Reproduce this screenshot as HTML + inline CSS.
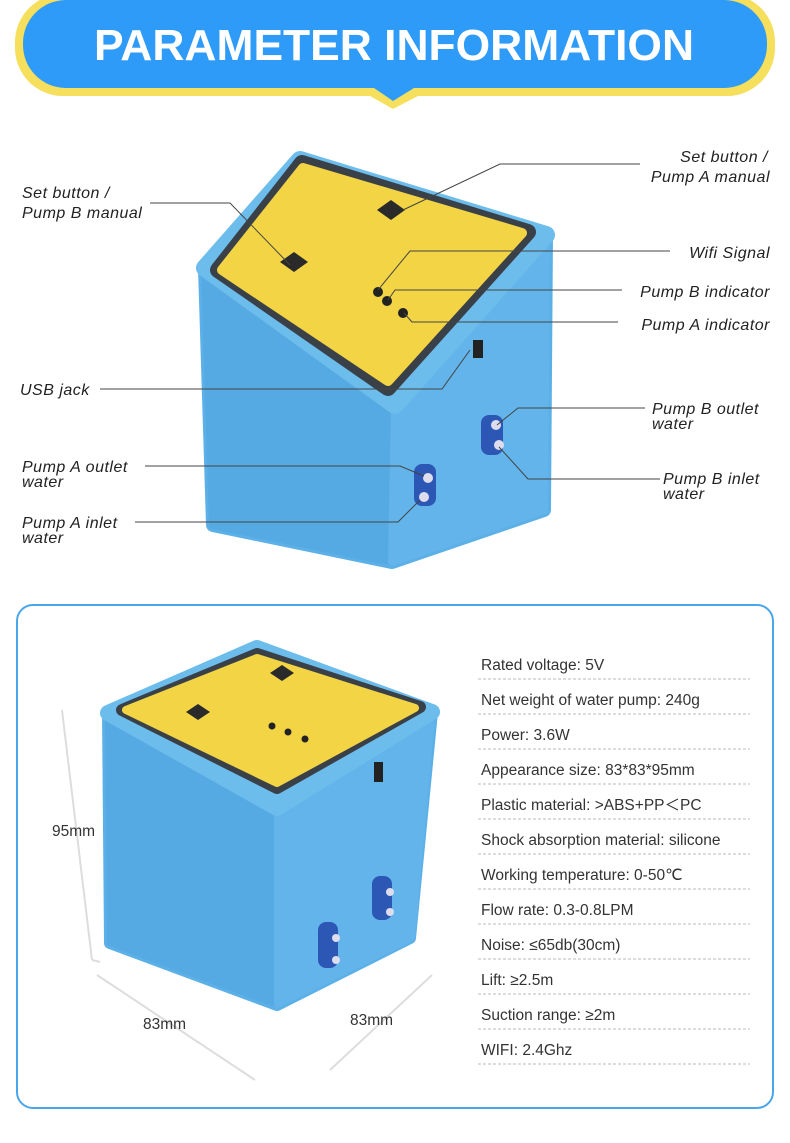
<!DOCTYPE html>
<html><head><meta charset="utf-8"><style>
body{margin:0;background:#fff;width:790px;height:1143px;overflow:hidden}
svg{display:block}
.l{font-family:"Liberation Sans",sans-serif;font-style:italic;font-size:16px;fill:#222;letter-spacing:0.5px}
.s{font-family:"Liberation Sans",sans-serif;font-size:15.5px;fill:#333}
.ln{stroke:#444;stroke-width:1;fill:none}
.d{stroke:#bbb;stroke-width:1;stroke-dasharray:3 2}
.dim{stroke:#ddd;stroke-width:2;fill:none}
</style></head><body>
<svg width="790" height="1143" viewBox="0 0 790 1143">
<!-- banner -->
<path d="M63,-6 H727 A48,48 0 0 1 775,42 V48 A48,48 0 0 1 727,96 H418 L393,109 L370,96 H63 A48,48 0 0 1 15,48 V42 A48,48 0 0 1 63,-6Z" fill="#f5df5c"/>
<path d="M66,0 H724 A43,43 0 0 1 767,43 V45 A43,43 0 0 1 724,88 H414 L393,101 L374,88 H66 A43,43 0 0 1 23,45 V43 A43,43 0 0 1 66,0Z" fill="#2f9bf9"/>
<text x="94" y="60" font-family="Liberation Sans,sans-serif" font-weight="bold" font-size="44" fill="#fff" textLength="600" lengthAdjust="spacingAndGlyphs">PARAMETER INFORMATION</text>

<!-- top product -->
<g stroke-linejoin="round">
<path d="M205,268 L300,160 L546,235 L544,510 L392,562 L213,525 Z" fill="#5cb0e8" stroke="#5cb0e8" stroke-width="14"/>
<path d="M205,268 L395,405 L392,562 L213,525 Z" fill="#56aae3" stroke="#56aae3" stroke-width="8"/>
<path d="M395,405 L546,240 L544,510 L392,562 Z" fill="#62b4ea" stroke="#62b4ea" stroke-width="8"/>
<path d="M205,268 L300,160 L546,235 L395,405 Z" fill="#6cbcec" stroke="#6cbcec" stroke-width="18"/>
<path d="M218,270 L302,163 L528,232 L388,388 Z" fill="#3a4048" stroke="#3a4048" stroke-width="16"/>
<path d="M222,270 L303,168 L522,233 L388,381 Z" fill="#f3d444" stroke="#f3d444" stroke-width="10"/>
</g>
<path d="M280,262 l14,-10 l14,10 l-14,10z" fill="#2a2a2a"/>
<path d="M377,210 l14,-10 l14,10 l-14,10z" fill="#2a2a2a"/>
<circle cx="378" cy="292" r="5" fill="#222"/><circle cx="387" cy="301" r="5" fill="#222"/><circle cx="403" cy="313" r="5" fill="#222"/>
<rect x="473" y="340" width="10" height="18" fill="#222"/>
<rect x="481" y="415" width="22" height="40" rx="8" fill="#2d57b5"/>
<rect x="414" y="464" width="22" height="42" rx="8" fill="#2d57b5"/>
<circle cx="496" cy="425" r="5" fill="#dde"/><circle cx="499" cy="445" r="5" fill="#dde"/>
<circle cx="428" cy="478" r="5" fill="#dde"/><circle cx="424" cy="497" r="5" fill="#dde"/>

<!-- top labels -->
<text class="l" x="22" y="198">Set button /</text>
<text class="l" x="22" y="218">Pump B manual</text>
<path class="ln" d="M150,203 H230 L290,265"/>
<text class="l" x="768" y="162" text-anchor="end">Set button /</text>
<text class="l" x="770" y="182" text-anchor="end">Pump A manual</text>
<path class="ln" d="M640,164 H500 L403,210"/>
<text class="l" x="770" y="258" text-anchor="end">Wifi Signal</text>
<path class="ln" d="M670,251 H410 L378,290"/>
<text class="l" x="770" y="297" text-anchor="end">Pump B indicator</text>
<path class="ln" d="M622,290 H395 L388,300"/>
<text class="l" x="770" y="330" text-anchor="end">Pump A indicator</text>
<path class="ln" d="M618,322 H412 L404,313"/>
<text class="l" x="20" y="395">USB jack</text>
<path class="ln" d="M100,389 H442 L470,350"/>
<text class="l" x="652" y="414">Pump B outlet</text>
<text class="l" x="652" y="429">water</text>
<path class="ln" d="M645,408 H518 L497,425"/>
<text class="l" x="663" y="484">Pump B inlet</text>
<text class="l" x="663" y="499">water</text>
<path class="ln" d="M660,479 H528 L499,447"/>
<text class="l" x="22" y="472">Pump A outlet</text>
<text class="l" x="22" y="487">water</text>
<path class="ln" d="M145,466 H400 L424,476"/>
<text class="l" x="22" y="528">Pump A inlet</text>
<text class="l" x="22" y="543">water</text>
<path class="ln" d="M135,522 H398 L420,500"/>

<!-- bottom panel -->
<rect x="17" y="605" width="756" height="503" rx="16" fill="#fff" stroke="#4aa6e8" stroke-width="2"/>
<!-- bottom product -->
<g stroke-linejoin="round">
<path d="M108,713 L257,648 L432,712 L410,938 L277,1005 L110,943 Z" fill="#5cb0e8" stroke="#5cb0e8" stroke-width="12"/>
<path d="M108,713 L277,808 L277,1005 L110,943 Z" fill="#56aae3" stroke="#56aae3" stroke-width="6"/>
<path d="M277,808 L432,716 L412,938 L277,1005 Z" fill="#62b4ea" stroke="#62b4ea" stroke-width="6"/>
<path d="M108,713 L257,648 L432,712 L277,808 Z" fill="#6cbcec" stroke="#6cbcec" stroke-width="16"/>
<path d="M122,710 L257,654 L420,707 L277,788 Z" fill="#3a4048" stroke="#3a4048" stroke-width="12"/>
<path d="M126,710 L257,658 L415,708 L277,783 Z" fill="#f3d444" stroke="#f3d444" stroke-width="8"/>
</g>
<path d="M186,712 l12,-8 l12,8 l-12,8z" fill="#2a2a2a"/>
<path d="M270,673 l12,-8 l12,8 l-12,8z" fill="#2a2a2a"/>
<circle cx="272" cy="726" r="3.5" fill="#222"/><circle cx="288" cy="732" r="3.5" fill="#222"/><circle cx="305" cy="739" r="3.5" fill="#222"/>
<rect x="374" y="762" width="9" height="20" fill="#222"/>
<rect x="372" y="876" width="20" height="44" rx="8" fill="#2d57b5"/>
<rect x="318" y="922" width="20" height="46" rx="8" fill="#2d57b5"/>
<circle cx="390" cy="892" r="4" fill="#dde"/><circle cx="390" cy="912" r="4" fill="#dde"/>
<circle cx="336" cy="938" r="4" fill="#dde"/><circle cx="336" cy="960" r="4" fill="#dde"/>
<path class="dim" d="M62,710 L92,960 M92,960 L100,962"/>
<path class="dim" d="M97,975 L255,1080 M330,1070 L432,975"/>
<text class="s" x="52" y="836">95mm</text>
<text class="s" x="143" y="1029">83mm</text>
<text class="s" x="350" y="1025">83mm</text>

<!-- specs -->
<text class="s" x="481" y="670">Rated voltage: 5V</text><line class="d" x1="478" y1="679" x2="750" y2="679"/>
<text class="s" x="481" y="705">Net weight of water pump: 240g</text><line class="d" x1="478" y1="714" x2="750" y2="714"/>
<text class="s" x="481" y="740">Power: 3.6W</text><line class="d" x1="478" y1="749" x2="750" y2="749"/>
<text class="s" x="481" y="775">Appearance size: 83*83*95mm</text><line class="d" x1="478" y1="784" x2="750" y2="784"/>
<text class="s" x="481" y="810">Plastic material: &gt;ABS+PP＜PC</text><line class="d" x1="478" y1="819" x2="750" y2="819"/>
<text class="s" x="481" y="845">Shock absorption material: silicone</text><line class="d" x1="478" y1="854" x2="750" y2="854"/>
<text class="s" x="481" y="880">Working temperature: 0-50℃</text><line class="d" x1="478" y1="889" x2="750" y2="889"/>
<text class="s" x="481" y="915">Flow rate: 0.3-0.8LPM</text><line class="d" x1="478" y1="924" x2="750" y2="924"/>
<text class="s" x="481" y="950">Noise: ≤65db(30cm)</text><line class="d" x1="478" y1="959" x2="750" y2="959"/>
<text class="s" x="481" y="985">Lift: ≥2.5m</text><line class="d" x1="478" y1="994" x2="750" y2="994"/>
<text class="s" x="481" y="1020">Suction range: ≥2m</text><line class="d" x1="478" y1="1029" x2="750" y2="1029"/>
<text class="s" x="481" y="1055">WIFI: 2.4Ghz</text><line class="d" x1="478" y1="1064" x2="750" y2="1064"/>
</svg>
</body></html>
